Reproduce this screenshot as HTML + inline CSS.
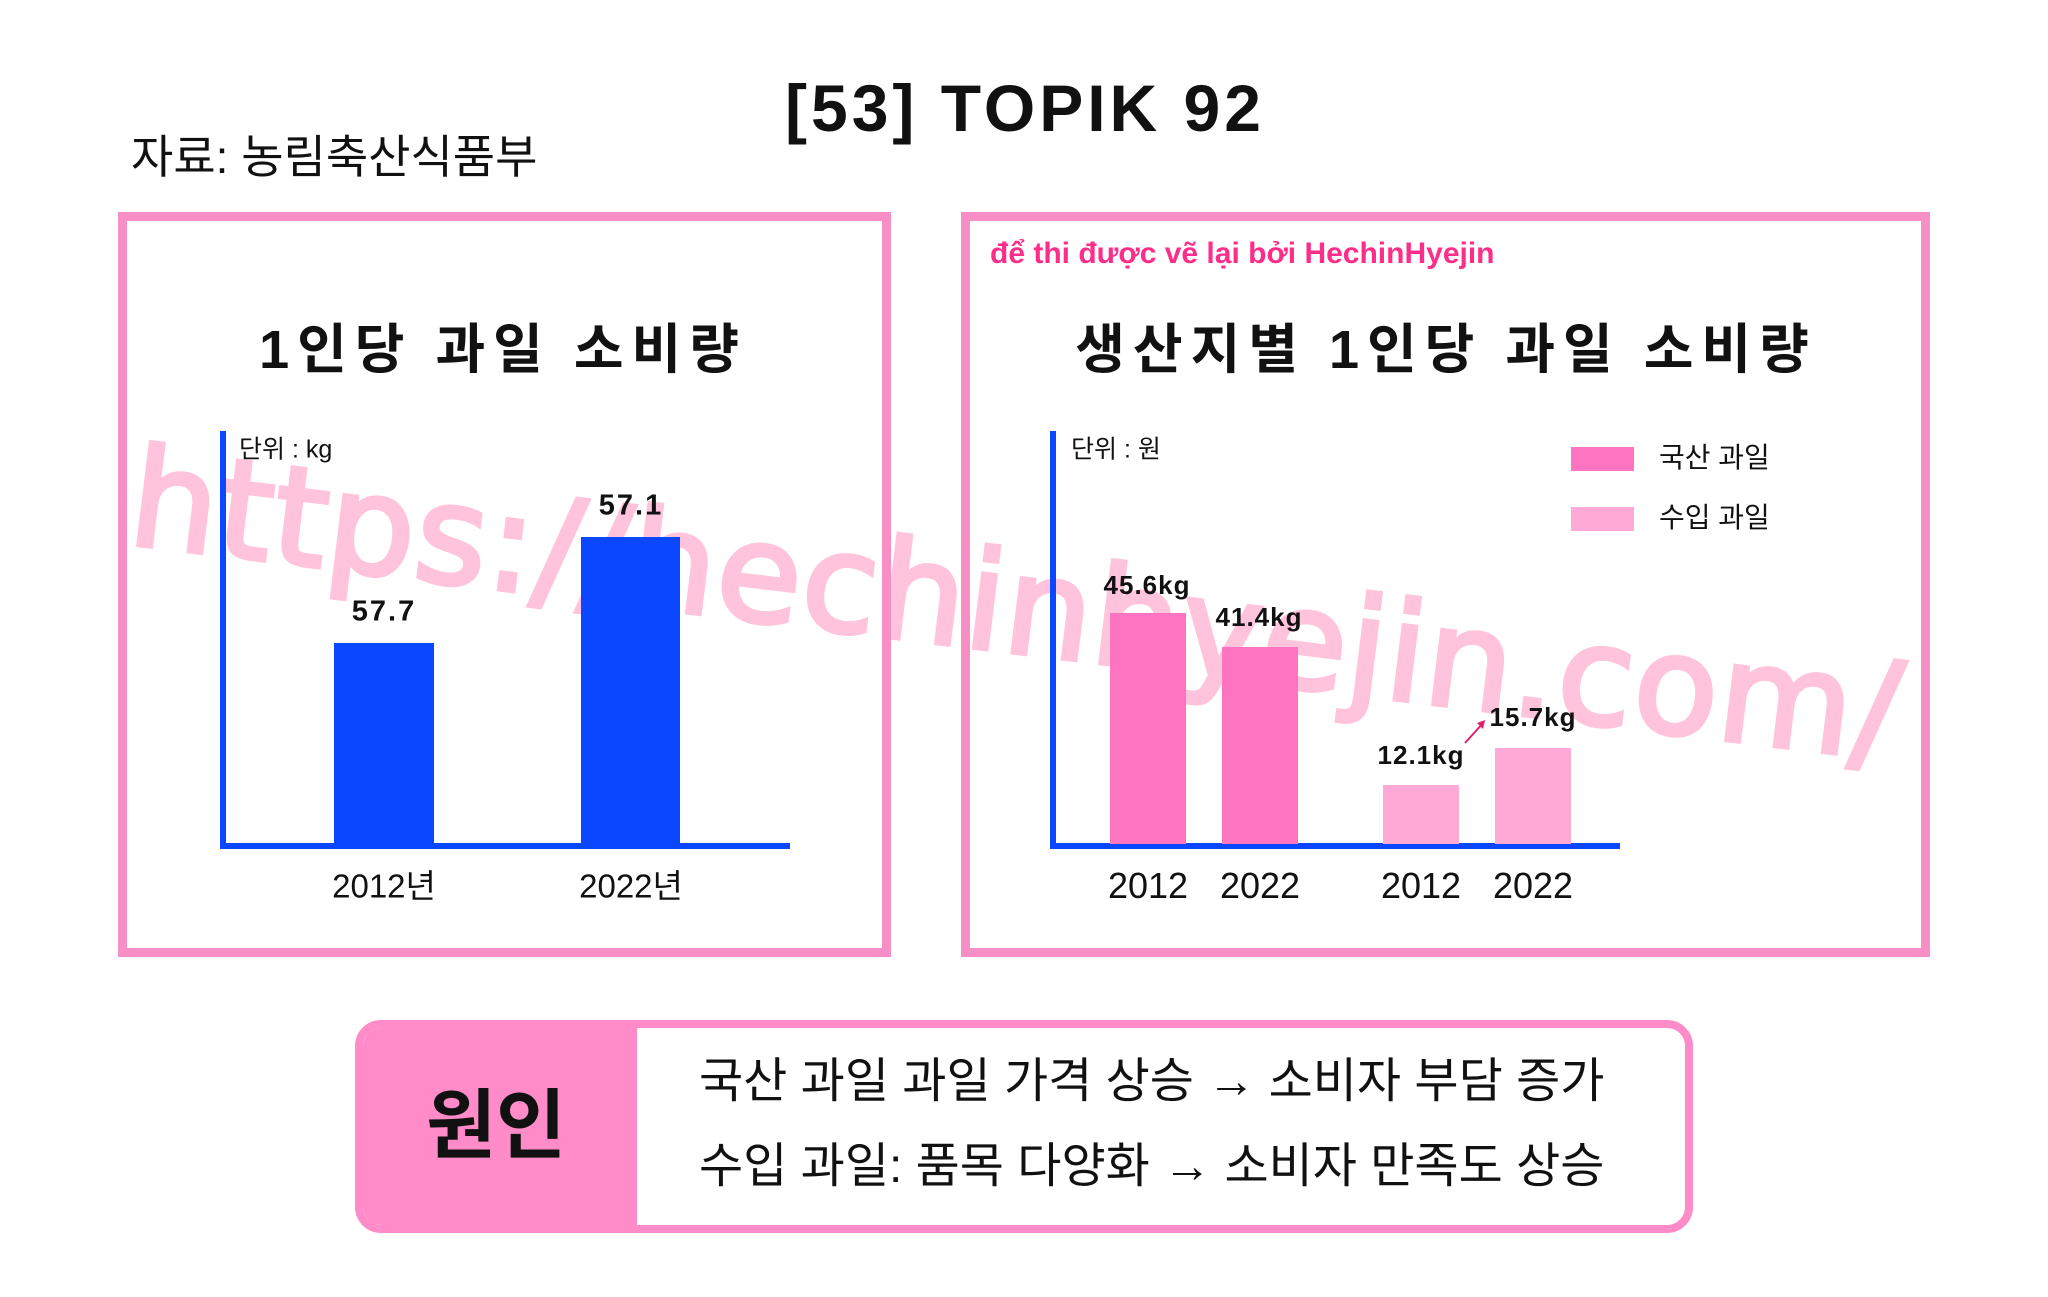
<!DOCTYPE html>
<html><head><meta charset="utf-8"><style>
body{margin:0;width:2048px;height:1297px;background:#fff;position:relative;overflow:hidden;font-family:"Liberation Sans","Noto Sans CJK KR",sans-serif;color:#111}
.t{position:absolute;white-space:nowrap;line-height:1;transform:translate(-50%,-50%)}
.l{position:absolute;white-space:nowrap;line-height:1;transform:translateY(-50%)}
.b{position:absolute}
.box{position:absolute;border:9px solid #f78fc6;box-sizing:border-box}
</style></head><body>
<div class="t" style="left:1025px;top:108px;font-size:66px;font-weight:bold;letter-spacing:4px">[53] TOPIK 92</div>
<div class="l" style="left:131px;top:157px;font-size:46px">자료: 농림축산식품부</div>

<div class="l" style="left:140px;top:430px;font-size:124px;color:#ffc3dc;transform:rotate(7deg) scale(1.11,1.1);transform-origin:0 0;letter-spacing:1px;font-family:'DejaVu Sans',sans-serif;-webkit-text-stroke:4px #ffc3dc">https://hechinhyejin.com/</div>

<div class="box" style="left:118px;top:212px;width:773px;height:745px"></div>
<div class="box" style="left:961px;top:212px;width:969px;height:745px"></div>

<div class="t" style="left:503px;top:350px;font-size:54px;font-weight:bold;letter-spacing:8px">1인당 과일 소비량</div>
<div class="b" style="left:220px;top:431px;width:6px;height:418px;background:#0a47ff"></div>
<div class="b" style="left:220px;top:843px;width:570px;height:6px;background:#0a47ff"></div>
<div class="b" style="left:334px;top:643px;width:100px;height:201px;background:#0a47ff"></div>
<div class="b" style="left:581px;top:537px;width:99px;height:307px;background:#0a47ff"></div>
<div class="l" style="left:239px;top:450px;font-size:25px">단위 : kg</div>
<div class="t" style="left:384px;top:612px;font-size:29px;font-weight:bold;letter-spacing:2px">57.7</div>
<div class="t" style="left:631px;top:506px;font-size:29px;font-weight:bold;letter-spacing:2px">57.1</div>
<div class="t" style="left:384px;top:886px;font-size:33px">2012년</div>
<div class="t" style="left:631px;top:886px;font-size:33px">2022년</div>

<div class="l" style="left:990px;top:254px;font-size:30px;color:#ff2d8a;font-weight:bold">để thi được vẽ lại bởi HechinHyejin</div>
<div class="t" style="left:1446px;top:350px;font-size:54px;font-weight:bold;letter-spacing:8px">생산지별 1인당 과일 소비량</div>
<div class="b" style="left:1050px;top:431px;width:6px;height:418px;background:#0a47ff"></div>
<div class="b" style="left:1050px;top:843px;width:570px;height:6px;background:#0a47ff"></div>
<div class="b" style="left:1110px;top:613px;width:76px;height:231px;background:#ff74c0"></div>
<div class="b" style="left:1222px;top:647px;width:76px;height:197px;background:#ff74c0"></div>
<div class="b" style="left:1383px;top:785px;width:76px;height:59px;background:#ffaad6"></div>
<div class="b" style="left:1495px;top:748px;width:76px;height:96px;background:#ffaad6"></div>
<div class="l" style="left:1071px;top:450px;font-size:25px">단위 : 원</div>
<div class="t" style="left:1147px;top:585px;font-size:26px;font-weight:bold;letter-spacing:1px">45.6kg</div>
<div class="t" style="left:1259px;top:617px;font-size:26px;font-weight:bold;letter-spacing:1px">41.4kg</div>
<div class="t" style="left:1421px;top:755px;font-size:26px;font-weight:bold;letter-spacing:1px">12.1kg</div>
<div class="t" style="left:1533px;top:717px;font-size:26px;font-weight:bold;letter-spacing:1px">15.7kg</div>
<svg class="b" style="left:1458px;top:714px" width="35" height="35"><line x1="7" y1="29" x2="26" y2="8" stroke="#e0206f" stroke-width="2"/><path d="M27 6 L19 9 L25 15 Z" fill="#e0206f"/></svg>
<div class="t" style="left:1148px;top:886px;font-size:36px">2012</div>
<div class="t" style="left:1260px;top:886px;font-size:36px">2022</div>
<div class="t" style="left:1421px;top:886px;font-size:36px">2012</div>
<div class="t" style="left:1533px;top:886px;font-size:36px">2022</div>
<div class="b" style="left:1571px;top:447px;width:63px;height:24px;background:#ff74c0"></div>
<div class="b" style="left:1571px;top:507px;width:63px;height:24px;background:#ffaad6"></div>
<div class="l" style="left:1659px;top:458px;font-size:28px">국산 과일</div>
<div class="l" style="left:1659px;top:518px;font-size:28px">수입 과일</div>

<div class="b" style="left:355px;top:1020px;width:1338px;height:213px;border:8px solid #ff8cc8;border-radius:26px;box-sizing:border-box;overflow:hidden">
<div class="b" style="left:0;top:0;width:274px;height:100%;background:#ff8cc8"></div>
</div>
<div class="t" style="left:496px;top:1127px;font-size:76px;font-weight:bold">원인</div>
<div class="l" style="left:699px;top:1082px;font-size:48px">국산 과일 과일 가격 상승 → 소비자 부담 증가</div>
<div class="l" style="left:699px;top:1167px;font-size:48px">수입 과일: 품목 다양화 → 소비자 만족도 상승</div>
</body></html>
